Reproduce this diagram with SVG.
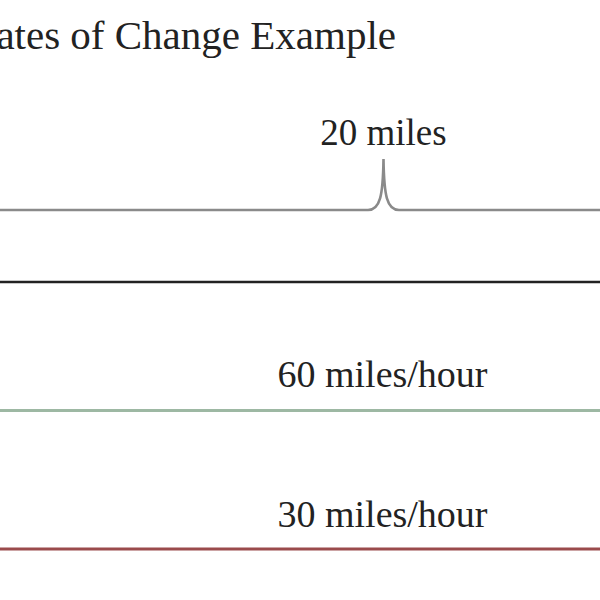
<svg xmlns="http://www.w3.org/2000/svg" width="600" height="600" viewBox="0 0 600 600">
<style>
.t{font-family:"Liberation Serif","DejaVu Serif",serif;fill:#222;}
.lbl{text-anchor:middle;}
.ln{fill:none;stroke-linecap:butt;}
</style>
<rect width="600" height="600" fill="#fff"/>
<g id="title"><text class="t" x="396" y="49" font-size="41" text-anchor="end">Rates of Change Example</text></g>
<g id="connectors">
<path id="brace" class="ln" d="M0 210 H368 C380 210 383 196 383.5 159 C384 196 387 210 399 210 H600" stroke="#8a8a8a" stroke-width="2.6"/>
<line id="road" class="ln" x1="0" y1="282" x2="600" y2="282" stroke="#222" stroke-width="2.6"/>
<line id="fast" class="ln" x1="0" y1="410.5" x2="600" y2="410.5" stroke="#9db8a3" stroke-width="3"/>
<line id="slow" class="ln" x1="0" y1="549" x2="600" y2="549" stroke="#9a4a4c" stroke-width="3"/>
</g>
<g id="label-distance"><text class="t lbl" x="383.5" y="145" font-size="37">20 miles</text></g>
<g id="label-60"><text class="t lbl" x="382.5" y="387" font-size="38">60 miles/hour</text></g>
<g id="label-30"><text class="t lbl" x="382.5" y="527" font-size="38">30 miles/hour</text></g>
</svg>
